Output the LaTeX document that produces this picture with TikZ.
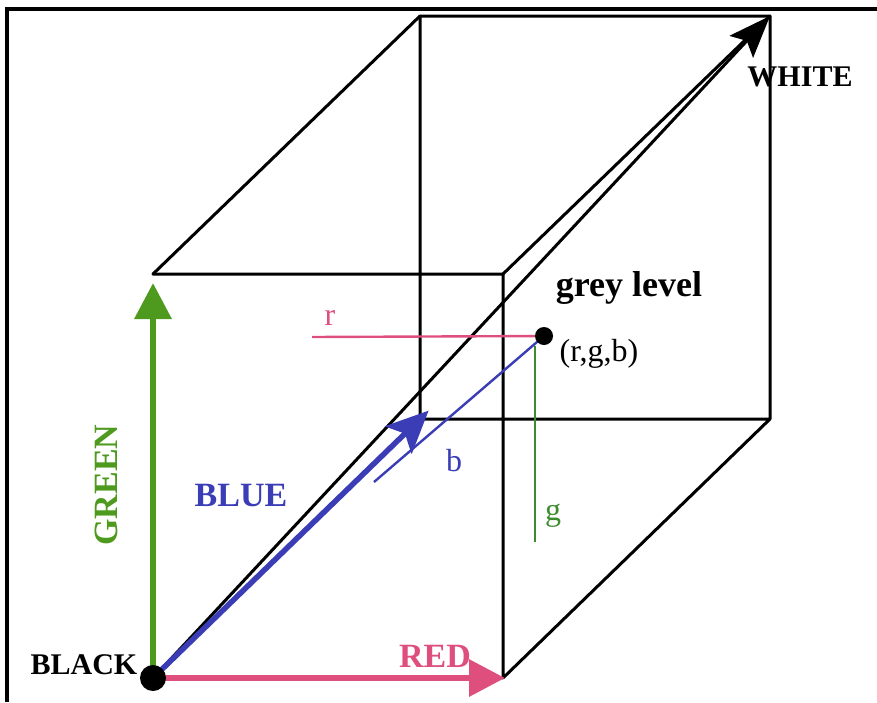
\documentclass[tikz,border=0pt]{standalone}
\usepackage{fontspec}
\setmainfont{Liberation Serif}
\usetikzlibrary{arrows.meta,positioning}
\definecolor{axgreen}{HTML}{4E9A1E}
\definecolor{dkgreen}{HTML}{3C8C2E}
\definecolor{axpink}{HTML}{DE4F7E}
\definecolor{axblue}{HTML}{3A3DB5}

\begin{document}
\begin{tikzpicture}[x=1pt,y=-1pt,>=Stealth,
    edge/.style={line width=3pt,line cap=round,line join=round},
    proj/.style={line width=2.4pt},
    biglbl/.style={font=\fontsize{34}{34}\selectfont\bfseries},
    cornerlbl/.style={font=\fontsize{30}{30}\selectfont\bfseries},
    lbl/.style={font=\fontsize{32}{32}\selectfont}]
  \useasboundingbox (0,0) rectangle (877,702);
  % frame (only left and top show)
  \draw[line width=3.5pt] (7,702) -- (7,9) -- (877,9);

  % cube corners, back face = front face shifted by (267,-259)
  \coordinate (O)  at (153,678);
  \coordinate (R)  at (503,678);
  \coordinate (G)  at (153,274);
  \coordinate (RG) at (503,274);
  \coordinate (B)  at (420,419);
  \coordinate (RB) at (770,419);
  \coordinate (GB) at (420,16);
  \coordinate (W)  at (770,16);

  % edges
  \draw[edge] (G) -- (RG) -- (R) -- (RB) -- (W) -- (GB) -- (B) -- (RB);
  \draw[edge] (G) -- (GB);
  \draw[edge] (RG) -- (W);

  % grey axis
  \draw[edge,-{Stealth[length=42pt,width=32pt,inset=8pt]}] (O) -- (W);

  % colour axes
  \draw[line width=6.5pt,axgreen,-{Triangle[length=36pt,width=36pt]},shorten >=9pt] (O) -- (G);
  \draw[line width=6.5pt,axpink,-{Triangle[length=36pt,width=36pt]},shorten >=-2pt] (O) -- (R);
  \draw[line width=5.5pt,axblue,-{Stealth[length=42pt,width=38pt,inset=9pt]},shorten >=-12pt] (O) -- (B);

  % the point and its components
  \coordinate (P) at (544,336);
  \coordinate (rEnd) at (312,337);
  \coordinate (gTop) at (535,346);
  \coordinate (gEnd) at (535,542);
  \coordinate (bEnd) at (374,482);
  \draw[proj,axpink] (rEnd) -- (P);
  \draw[proj,dkgreen] (gTop) -- (gEnd);
  \draw[proj,axblue] (bEnd) -- (P);
  \fill (P) circle (9pt);
  \fill (O) circle (13pt);

  % labels
  \node[cornerlbl] (blackLbl) at (84,665) {BLACK};
  \node[cornerlbl] (whiteLbl) at (800,77) {WHITE};
  \node[cornerlbl,font=\fontsize{36}{36}\selectfont\bfseries] (greyLbl) at (629,288) {grey level};
  \node[lbl] (rgbLbl) at (599,354) {(r,g,b)};
  \node[lbl,axpink] (rLbl) at (330,318) {r};
  \node[lbl,dkgreen] (gLbl) at (553,516) {g};
  \node[lbl,axblue] (bLbl) at (454,461) {b};
  \node[biglbl,axblue] (blueLbl) at (241,496) {BLUE};
  \node[biglbl,axpink] (redLbl) at (435,656) {RED};
  \node[biglbl,axgreen,rotate=90] (greenLbl) at (106,485) {GREEN};
\end{tikzpicture}
\end{document}
